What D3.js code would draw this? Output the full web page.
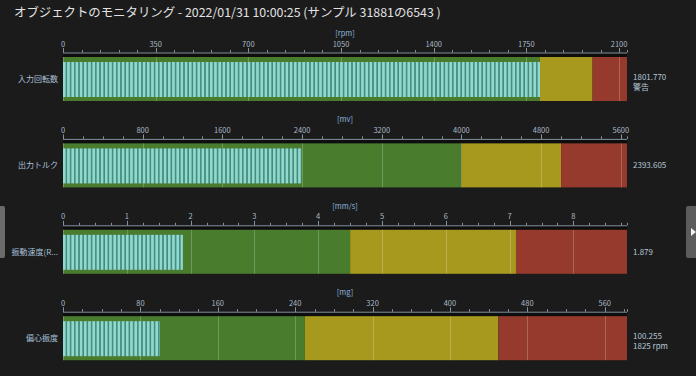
<!DOCTYPE html>
<html><head><meta charset="utf-8">
<script src="https://cdn.jsdelivr.net/npm/d3@7"></script>
<style>
html,body{margin:0;padding:0;background:#1b1b1b;overflow:hidden}
svg{display:block}
</style></head>
<body>
<script>
const title = "オブジェクトのモニタリング - 2022/01/31 10:00:25 (サンプル 31881の6543 )";
const names = ["入力回転数", "出力トルク", "振動速度(R...", "偏心振度"];
const units = ["[rpm]", "[mv]", "[mm/s]", "[mg]"];
const values = [1801.770, 2393.605, 1.879, 100.255];
const valueLabels = ["1801.770", "2393.605", "1.879", "100.255"];
const notes = ["警告", "", "", "1825 rpm"];
const axisMax = [2130, 5662, 8.84, 583];
const yellowFrom = [1800, 4000, 4.5, 250];
const redFrom = [2000, 5000, 7.1, 450];
const majorStep = [350, 800, 1, 80];
const minorStep = [70, 200, 0.25, 20];

const W = 696, H = 376;
const svg = d3.select("body").append("svg").attr("width", W).attr("height", H);
svg.append("rect").attr("width", W).attr("height", H).attr("fill", "#1b1b1b");

svg.append("text").attr("x", 14).attr("y", 17)
  .attr("font-family", "'Noto Sans CJK JP', 'Noto Sans', sans-serif")
  .attr("font-size", 12.4).attr("fill", "#e2e2e2").text(title);

const defs = svg.append("defs");
const pat = defs.append("pattern").attr("id", "stripes").attr("patternUnits", "userSpaceOnUse")
  .attr("x", 63).attr("y", 0).attr("width", 4.2).attr("height", 10);
pat.append("rect").attr("width", 4.2).attr("height", 10).attr("fill", "#458a76");
pat.append("rect").attr("width", 2.6).attr("height", 10).attr("fill", "#90d9d1");

const x0 = 63, x1 = 627;
const font = "'Noto Sans CJK JP', 'Noto Sans', sans-serif";

values.forEach((v, i) => {
  const axisY = 52.5 + i * 86.4;
  const barTop = axisY + 4.5, barH = 44;
  const g = svg.append("g");
  const x = d3.scaleLinear().domain([0, axisMax[i]]).range([x0, x1]);

  g.append("rect").attr("x", x0).attr("y", axisY).attr("width", x1 - x0).attr("height", barTop - axisY)
    .attr("fill", "#0e0e0e");
  const zones = [[0, yellowFrom[i], "#4a7c2e"], [yellowFrom[i], redFrom[i], "#a6991d"], [redFrom[i], axisMax[i], "#953a2c"]];
  g.selectAll("rect.zone").data(zones).join("rect").attr("class", "zone")
    .attr("x", d => x(d[0])).attr("y", barTop).attr("width", d => x(d[1]) - x(d[0]))
    .attr("height", barH).attr("fill", d => d[2]);

  const majors = d3.range(0, axisMax[i] + 1e-9, majorStep[i]);
  const minors = d3.range(0, axisMax[i] + 1e-9, minorStep[i]).concat([axisMax[i]]);
  g.selectAll("line.grid").data(majors).join("line").attr("class", "grid")
    .attr("x1", d => Math.round(x(d)) + 0.5).attr("x2", d => Math.round(x(d)) + 0.5)
    .attr("y1", barTop).attr("y2", barTop + barH)
    .attr("stroke", "rgba(255,255,255,0.22)").attr("stroke-width", 1);

  g.append("rect").attr("x", x(0)).attr("y", barTop + 5)
    .attr("width", x(v) - x(0)).attr("height", barH - 9)
    .attr("fill", "url(#stripes)");

  g.append("line").attr("x1", x0).attr("x2", x1).attr("y1", axisY + 0.5).attr("y2", axisY + 0.5)
    .attr("stroke", "#8593a0").attr("stroke-width", 1);
  g.selectAll("line.minor").data(minors).join("line").attr("class", "minor")
    .attr("x1", d => Math.round(x(d)) + 0.5).attr("x2", d => Math.round(x(d)) + 0.5)
    .attr("y1", axisY).attr("y2", axisY - 2.5).attr("stroke", "#8593a0");
  g.selectAll("line.major").data(majors).join("line").attr("class", "major")
    .attr("x1", d => Math.round(x(d)) + 0.5).attr("x2", d => Math.round(x(d)) + 0.5)
    .attr("y1", axisY).attr("y2", axisY - 4.5).attr("stroke", "#8593a0");
  g.selectAll("text.tl").data(majors).join("text").attr("class", "tl")
    .attr("x", d => x(d)).attr("y", axisY - 6)
    .attr("text-anchor", "middle").attr("font-family", font).attr("font-size", 7.5)
    .attr("fill", "#a9b8c6").text(d => d3.format("~g")(d));
  g.append("text").attr("x", (x0 + x1) / 2).attr("y", axisY - 16.5)
    .attr("text-anchor", "middle").attr("font-family", font).attr("font-size", 7.5)
    .attr("fill", "#8fb6dc").text(units[i]);

  const cy = barTop + barH / 2;
  g.append("text").attr("x", 58).attr("y", cy + 3)
    .attr("text-anchor", "end").attr("font-family", font).attr("font-size", 8)
    .attr("fill", "#a9c0da").text(names[i]);

  const two = notes[i] !== "";
  g.append("text").attr("x", 633).attr("y", two ? cy + 0.5 : cy + 3)
    .attr("font-family", font).attr("font-size", 8)
    .attr("fill", "#b4c6d8").text(valueLabels[i]);
  if (two) {
    g.append("text").attr("x", 633).attr("y", cy + 10.5)
      .attr("font-family", font).attr("font-size", 8)
      .attr("fill", "#b4c6d8").text(notes[i]);
  }
});

svg.append("rect").attr("x", -4).attr("y", 206).attr("width", 9).attr("height", 52).attr("rx", 2)
  .attr("fill", "#6b6b6b");
svg.append("rect").attr("x", 686).attr("y", 206).attr("width", 14).attr("height", 52).attr("rx", 2)
  .attr("fill", "#5c5c5c");
svg.append("path").attr("d", "M691,228 L696,232 L691,236 Z").attr("fill", "#f0f0f0");
</script>
</body></html>
